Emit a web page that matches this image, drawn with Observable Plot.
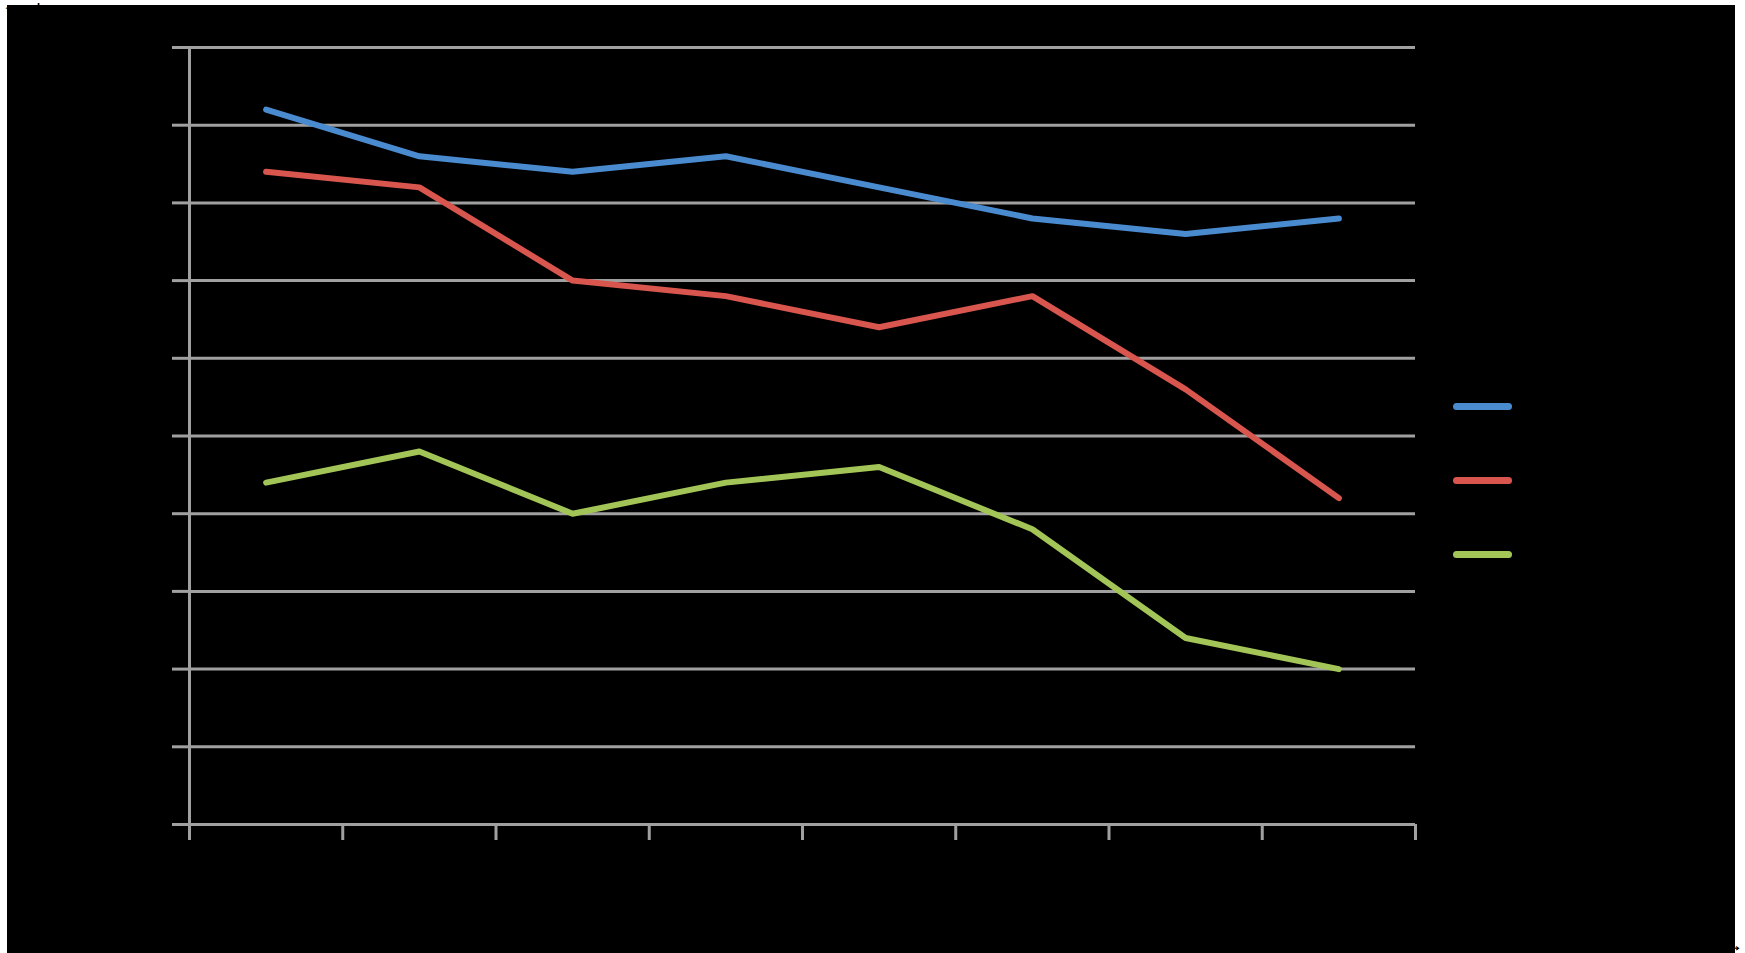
<!DOCTYPE html>
<html>
<head>
<meta charset="utf-8">
<script src="https://cdn.jsdelivr.net/npm/d3@7"></script>
<script src="https://cdn.jsdelivr.net/npm/@observablehq/plot@0.6"></script>
<style>
  html, body { margin: 0; padding: 0; background: #ffffff; width: 1745px; height: 953px; overflow: hidden; }
  #bg { position: absolute; left: 7px; top: 5px; width: 1728px; height: 948px; background: #000000; }
  #chart { position: absolute; left: 0; top: 0; }
  #legend { position: absolute; left: 1453px; top: 0; font-family: "Liberation Sans", Arial, sans-serif; font-size: 18px; color: #000000; }
  .item { position: absolute; left: 0; display: flex; align-items: center; white-space: nowrap; }
  .sw { width: 59px; height: 7px; border-radius: 3.5px; margin-right: 8px; }
</style>
</head>
<body>
<div id="bg"></div>
<div id="chart"></div>
<div id="legend"></div>
<script>
const categories = ["1", "2", "3", "4", "5", "6", "7", "8"];
const seriesNames = ["Series 1", "Series 2", "Series 3"];
const seriesColors = ["#4a8bd0", "#d9564f", "#a3c558"];
const series1 = [9.2, 8.6, 8.4, 8.6, 8.2, 7.8, 7.6, 7.8];
const series2 = [8.4, 8.2, 7.0, 6.8, 6.4, 6.8, 5.6, 4.2];
const series3 = [4.4, 4.8, 4.0, 4.4, 4.6, 3.8, 2.4, 2.0];
const yTicks = [0, 1, 2, 3, 4, 5, 6, 7, 8, 9, 10];

const allSeries = [series1, series2, series3];
const data = [];
allSeries.forEach((vals, s) => vals.forEach((v, i) => data.push({series: seriesNames[s], idx: i + 0.5, cat: categories[i], value: v})));

const gridColor = "#a0a0a0";

const plot = Plot.plot({
  width: 1745,
  height: 953,
  marginLeft: 189,
  marginRight: 330,
  marginTop: 47,
  marginBottom: 129,
  style: { background: "transparent", fontFamily: "Liberation Sans, Arial, sans-serif", fontSize: "18px" },
  x: { domain: [0, categories.length], axis: null },
  y: { domain: [0, 10], axis: null },
  color: { domain: seriesNames, range: seriesColors },
  marks: [
    Plot.ruleY(yTicks, { stroke: gridColor, strokeWidth: 3 }),
    Plot.axisY({ ticks: yTicks, tickSize: 17, stroke: gridColor, strokeWidth: 3, strokeOpacity: 1, fill: "#000000", tickPadding: 6 }),
    Plot.ruleX([0], { stroke: gridColor, strokeWidth: 3 }),
    Plot.axisX({ ticks: d3.range(0, categories.length + 1), tickSize: 16, stroke: gridColor, strokeWidth: 3, strokeOpacity: 1, tickFormat: () => "" }),
    Plot.axisX({ ticks: categories.map((c, i) => i + 0.5), tickSize: 0, tickPadding: 30, fill: "#000000", tickFormat: (d) => categories[Math.floor(d)] }),
    Plot.line(data, { x: "idx", y: "value", stroke: "series", strokeWidth: 6, strokeLinecap: "round", strokeLinejoin: "round" })
  ]
});
document.getElementById("chart").appendChild(plot);

const legend = document.getElementById("legend");
const legendTops = [406, 480, 554];
seriesNames.forEach((name, i) => {
  const item = document.createElement("div");
  item.className = "item";
  item.style.top = (legendTops[i] - 11) + "px";
  item.style.height = "22px";
  const sw = document.createElement("span");
  sw.className = "sw";
  sw.style.background = seriesColors[i];
  const label = document.createElement("span");
  label.textContent = name;
  item.appendChild(sw);
  item.appendChild(label);
  legend.appendChild(item);
});
</script>
</body>
</html>
